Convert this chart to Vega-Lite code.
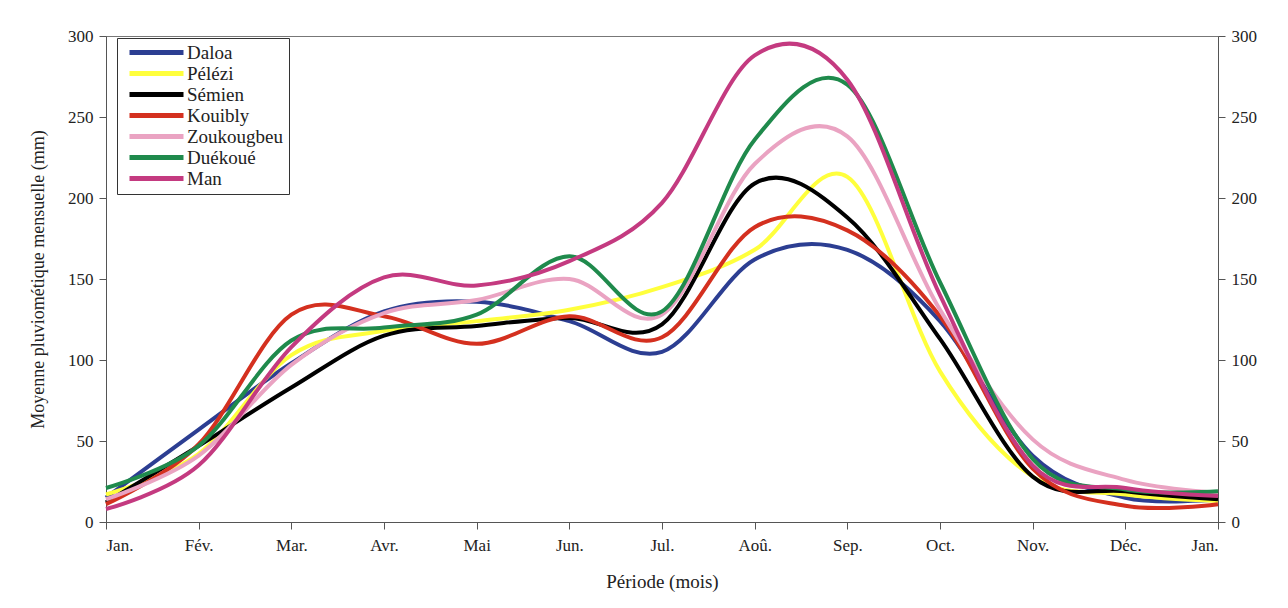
{
  "$schema": "https://vega.github.io/schema/vega-lite/v6.json",
  "width": 1112,
  "height": 486,
  "autosize": {"type": "none"},
  "padding": {"left": 106, "top": 36, "right": 70, "bottom": 86},
  "background": "white",
  "config": {
    "font": "Liberation Serif, Times New Roman, serif",
    "view": {"stroke": "#777", "strokeWidth": 1},
    "axis": {
      "labelFont": "Liberation Serif, Times New Roman, serif",
      "titleFont": "Liberation Serif, Times New Roman, serif",
      "labelFontSize": 17,
      "titleFontSize": 18,
      "titleFontWeight": "normal",
      "labelColor": "#222",
      "titleColor": "#222",
      "domainColor": "#555",
      "tickColor": "#555",
      "grid": false
    }
  },
  "data": {
    "values": [
      {"m": 0, "s": "Daloa", "v": 15}, {"m": 1, "s": "Daloa", "v": 57}, {"m": 2, "s": "Daloa", "v": 98},
      {"m": 3, "s": "Daloa", "v": 130}, {"m": 4, "s": "Daloa", "v": 136}, {"m": 5, "s": "Daloa", "v": 124},
      {"m": 6, "s": "Daloa", "v": 105}, {"m": 7, "s": "Daloa", "v": 162}, {"m": 8, "s": "Daloa", "v": 168},
      {"m": 9, "s": "Daloa", "v": 124}, {"m": 10, "s": "Daloa", "v": 41}, {"m": 11, "s": "Daloa", "v": 15},
      {"m": 12, "s": "Daloa", "v": 14},
      {"m": 0, "s": "Pélézi", "v": 17}, {"m": 1, "s": "Pélézi", "v": 42}, {"m": 2, "s": "Pélézi", "v": 103},
      {"m": 3, "s": "Pélézi", "v": 118}, {"m": 4, "s": "Pélézi", "v": 124}, {"m": 5, "s": "Pélézi", "v": 131},
      {"m": 6, "s": "Pélézi", "v": 145}, {"m": 7, "s": "Pélézi", "v": 168}, {"m": 8, "s": "Pélézi", "v": 213},
      {"m": 9, "s": "Pélézi", "v": 93}, {"m": 10, "s": "Pélézi", "v": 28}, {"m": 11, "s": "Pélézi", "v": 17},
      {"m": 12, "s": "Pélézi", "v": 13},
      {"m": 0, "s": "Sémien", "v": 12}, {"m": 1, "s": "Sémien", "v": 47}, {"m": 2, "s": "Sémien", "v": 83},
      {"m": 3, "s": "Sémien", "v": 115}, {"m": 4, "s": "Sémien", "v": 121}, {"m": 5, "s": "Sémien", "v": 126},
      {"m": 6, "s": "Sémien", "v": 122}, {"m": 7, "s": "Sémien", "v": 209}, {"m": 8, "s": "Sémien", "v": 188},
      {"m": 9, "s": "Sémien", "v": 113}, {"m": 10, "s": "Sémien", "v": 28}, {"m": 11, "s": "Sémien", "v": 19},
      {"m": 12, "s": "Sémien", "v": 14},
      {"m": 0, "s": "Kouibly", "v": 11}, {"m": 1, "s": "Kouibly", "v": 48}, {"m": 2, "s": "Kouibly", "v": 128},
      {"m": 3, "s": "Kouibly", "v": 127}, {"m": 4, "s": "Kouibly", "v": 110}, {"m": 5, "s": "Kouibly", "v": 127},
      {"m": 6, "s": "Kouibly", "v": 114}, {"m": 7, "s": "Kouibly", "v": 182}, {"m": 8, "s": "Kouibly", "v": 180},
      {"m": 9, "s": "Kouibly", "v": 127}, {"m": 10, "s": "Kouibly", "v": 33}, {"m": 11, "s": "Kouibly", "v": 10},
      {"m": 12, "s": "Kouibly", "v": 11},
      {"m": 0, "s": "Zoukougbeu", "v": 14}, {"m": 1, "s": "Zoukougbeu", "v": 41}, {"m": 2, "s": "Zoukougbeu", "v": 97},
      {"m": 3, "s": "Zoukougbeu", "v": 129}, {"m": 4, "s": "Zoukougbeu", "v": 137}, {"m": 5, "s": "Zoukougbeu", "v": 150},
      {"m": 6, "s": "Zoukougbeu", "v": 128}, {"m": 7, "s": "Zoukougbeu", "v": 221}, {"m": 8, "s": "Zoukougbeu", "v": 238},
      {"m": 9, "s": "Zoukougbeu", "v": 131}, {"m": 10, "s": "Zoukougbeu", "v": 51}, {"m": 11, "s": "Zoukougbeu", "v": 26},
      {"m": 12, "s": "Zoukougbeu", "v": 18},
      {"m": 0, "s": "Duékoué", "v": 21}, {"m": 1, "s": "Duékoué", "v": 47}, {"m": 2, "s": "Duékoué", "v": 112},
      {"m": 3, "s": "Duékoué", "v": 120}, {"m": 4, "s": "Duékoué", "v": 128}, {"m": 5, "s": "Duékoué", "v": 164},
      {"m": 6, "s": "Duékoué", "v": 130}, {"m": 7, "s": "Duékoué", "v": 236}, {"m": 8, "s": "Duékoué", "v": 270},
      {"m": 9, "s": "Duékoué", "v": 148}, {"m": 10, "s": "Duékoué", "v": 39}, {"m": 11, "s": "Duékoué", "v": 20},
      {"m": 12, "s": "Duékoué", "v": 19},
      {"m": 0, "s": "Man", "v": 8}, {"m": 1, "s": "Man", "v": 35}, {"m": 2, "s": "Man", "v": 108},
      {"m": 3, "s": "Man", "v": 151}, {"m": 4, "s": "Man", "v": 146}, {"m": 5, "s": "Man", "v": 161},
      {"m": 6, "s": "Man", "v": 197}, {"m": 7, "s": "Man", "v": 288}, {"m": 8, "s": "Man", "v": 273},
      {"m": 9, "s": "Man", "v": 140}, {"m": 10, "s": "Man", "v": 35}, {"m": 11, "s": "Man", "v": 21},
      {"m": 12, "s": "Man", "v": 16}
    ]
  },
  "encoding": {
    "x": {
      "field": "m",
      "type": "quantitative",
      "scale": {"domain": [0, 12], "nice": false, "zero": false},
      "axis": {
        "values": [0, 1, 2, 3, 4, 5, 6, 7, 8, 9, 10, 11, 12],
        "labelExpr": "['Jan.','Fév.','Mar.','Avr.','Mai','Jun.','Jul.','Aoû.','Sep.','Oct.','Nov.','Déc.','Jan.'][datum.value]",
        "title": "Période (mois)",
        "titleFontSize": 19,
        "tickSize": 7,
        "labelPadding": 8,
        "titlePadding": 19
      }
    }
  },
  "layer": [
    {
      "mark": {"type": "line", "interpolate": "cardinal", "strokeWidth": 4},
      "encoding": {
        "y": {
          "field": "v",
          "type": "quantitative",
          "scale": {"domain": [0, 300], "nice": false},
          "axis": {
            "orient": "left",
            "values": [0, 50, 100, 150, 200, 250, 300],
            "title": "Moyenne pluviométique mensuelle (mm)",
            "tickSize": 7,
            "labelPadding": 6,
            "titlePadding": 20
          }
        },
        "color": {
          "field": "s",
          "type": "nominal",
          "scale": {
            "domain": ["Daloa", "Pélézi", "Sémien", "Kouibly", "Zoukougbeu", "Duékoué", "Man"],
            "range": ["#2c3e92", "#ffff3c", "#000000", "#d4301f", "#eaa3c2", "#1f8a4c", "#c43a80"]
          },
          "legend": {
            "title": null,
            "orient": "none",
            "legendX": 11,
            "legendY": 2,
            "symbolType": "M-4.5,0H4.5",
            "symbolStrokeWidth": 5,
            "symbolSize": 144,
            "symbolOffset": 25,
            "labelOffset": 21,
            "labelFont": "Liberation Serif, Times New Roman, serif",
            "labelFontSize": 19,
            "labelColor": "#222",
            "rowPadding": 0,
            "strokeColor": "#333",
            "fillColor": "white",
            "padding": 5
          }
        }
      }
    },
    {
      "mark": {"type": "line", "strokeOpacity": 0},
      "encoding": {
        "detail": {"field": "s"},
        "y": {
          "field": "v",
          "type": "quantitative",
          "scale": {"domain": [0, 300], "nice": false},
          "axis": {
            "orient": "right",
            "values": [0, 50, 100, 150, 200, 250, 300],
            "title": null,
            "tickSize": 7,
            "labelPadding": 6
          }
        }
      }
    }
  ],
  "resolve": {"scale": {"y": "independent"}, "axis": {"y": "independent"}}
}
